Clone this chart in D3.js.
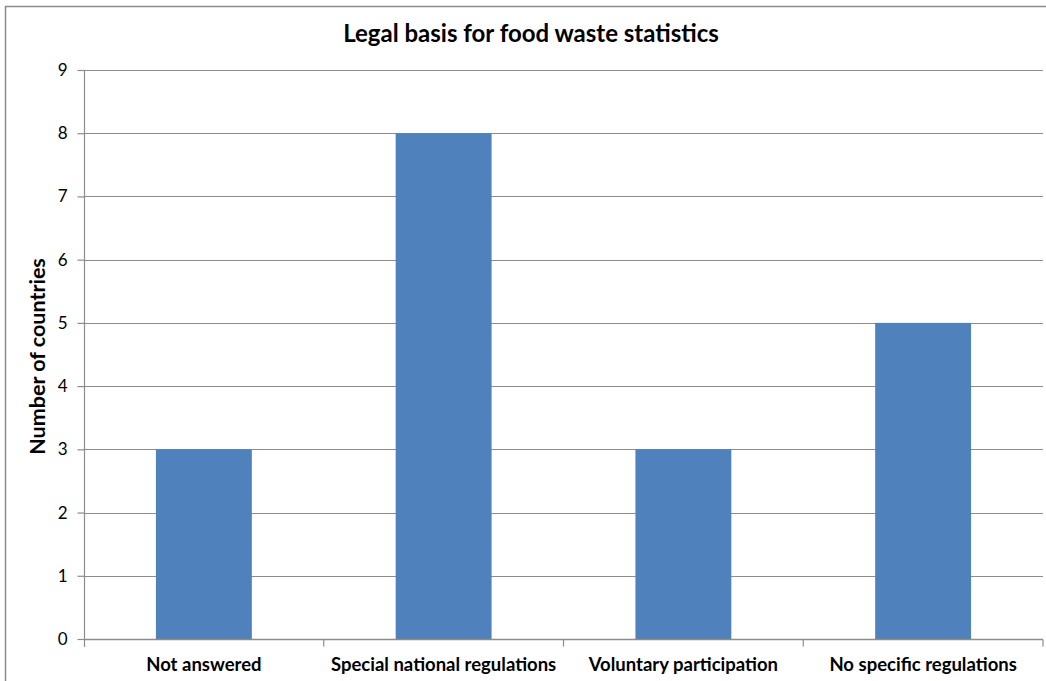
<!DOCTYPE html>
<html><head><meta charset="utf-8">
<script src="https://cdn.jsdelivr.net/npm/d3@7"></script>
<style>body{margin:0;background:#fff}svg{display:block}</style>
</head><body>
<script>
const categories = ["Not answered", "Special national regulations", "Voluntary participation", "No specific regulations"];
const values = [3, 8, 3, 5];
const yTicks = [0,1,2,3,4,5,6,7,8,9];
const title = "Legal basis for food waste statistics";
const yTitle = "Number of countries";

const W = 1046, H = 681;
const m = {left: 84, right: 3, top: 70, bottom: 42};
const font = "Lato, 'Open Sans', sans-serif";
const svg = d3.select("body").append("svg").attr("width", W).attr("height", H);

svg.append("rect").attr("x", 5.5).attr("y", 6.5).attr("width", W + 10).attr("height", H + 10)
  .attr("fill", "#fff").attr("stroke", "#8c8c8c").attr("stroke-width", 1.5);

const x = d3.scaleBand().domain(categories).range([m.left, W - m.right]).paddingInner(0.6).paddingOuter(0.3);
const y = d3.scaleLinear().domain([0, 9]).range([H - m.bottom, m.top]);

// gridlines
svg.append("g").selectAll("line").data(yTicks.filter(d => d > 0)).join("line")
  .attr("x1", m.left).attr("x2", W - m.right)
  .attr("y1", d => Math.round(y(d)) + 0.5).attr("y2", d => Math.round(y(d)) + 0.5)
  .attr("stroke", "#8c8c8c").attr("stroke-width", 1);

// bars
svg.append("g").selectAll("rect").data(values).join("rect")
  .attr("x", (d, i) => x(categories[i])).attr("width", x.bandwidth())
  .attr("y", d => y(d)).attr("height", d => y(0) - y(d))
  .attr("fill", "#4F81BD");

// y axis
const yAxis = svg.append("g").attr("transform", `translate(${m.left + 0.5},0)`)
  .call(d3.axisLeft(y).tickValues(yTicks).tickSize(7).tickPadding(10).tickFormat(d3.format("d")));
yAxis.selectAll("line,path").attr("stroke", "#8c8c8c").attr("stroke-width", 1.2);
yAxis.select("path").attr("d", `M0,${y(9)}V${y(0) + 8}`);
yAxis.selectAll("text").attr("font-family", font).attr("font-size", 17).attr("fill", "#000");

// x axis
const bandStep = (W - m.right - m.left) / categories.length;
const xg = svg.append("g").attr("transform", `translate(0,${Math.round(y(0)) + 0.5})`);
xg.append("line").attr("x1", m.left).attr("x2", W - m.right).attr("stroke", "#8c8c8c").attr("stroke-width", 1.5);
xg.selectAll("line.tk").data(d3.range(1, categories.length + 1)).join("line").attr("class", "tk")
  .attr("x1", i => m.left + i * bandStep).attr("x2", i => m.left + i * bandStep)
  .attr("y1", 0).attr("y2", 7).attr("stroke", "#8c8c8c").attr("stroke-width", 1.2);
xg.selectAll("text").data(categories).join("text")
  .attr("x", d => x(d) + x.bandwidth() / 2).attr("y", 31)
  .attr("text-anchor", "middle").attr("font-family", font).attr("font-weight", "bold")
  .attr("font-size", 18.5).attr("fill", "#000").text(d => d);

// title
svg.append("text").attr("x", 531).attr("y", 42).attr("text-anchor", "middle")
  .attr("font-family", font).attr("font-weight", "bold").attr("font-size", 24).text(title);

// y title
svg.append("text").attr("transform", `translate(45,${(y(0) + y(9)) / 2 + 2}) rotate(-90)`)
  .attr("text-anchor", "middle").attr("font-family", font).attr("font-weight", "bold")
  .attr("font-size", 21.5).text(yTitle);
</script>
</body></html>
